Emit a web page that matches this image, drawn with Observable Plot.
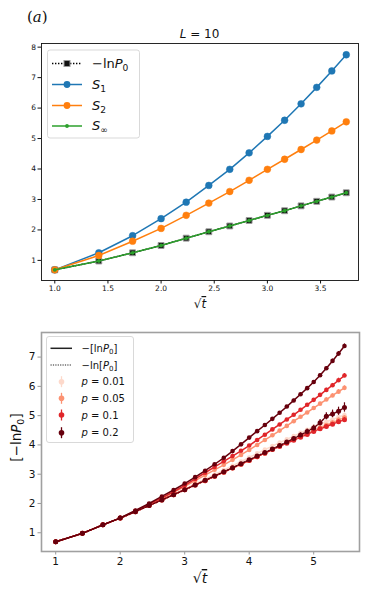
<!DOCTYPE html>
<html><head><meta charset="utf-8">
<script src="https://cdn.jsdelivr.net/npm/d3@7"></script>
<script src="https://cdn.jsdelivr.net/npm/@observablehq/plot@0.6"></script>
<style>body{margin:0;background:#fff;font-family:"DejaVu Sans",sans-serif}#c{width:374px}#c svg{display:block}</style>
</head><body><div id="c"></div><script>
// ---------- Top panel (L = 10) ----------
const sqrtTTop = [1, 1.414, 1.732, 2, 2.236, 2.449, 2.646, 2.828, 3, 3.162, 3.317, 3.464, 3.606, 3.742];
const minusLnP0 = [0.69, 0.98, 1.25, 1.49, 1.73, 1.94, 2.13, 2.31, 2.48, 2.63, 2.79, 2.94, 3.08, 3.22];
const S1 = [0.69, 1.25, 1.81, 2.37, 2.91, 3.46, 3.99, 4.53, 5.07, 5.60, 6.14, 6.68, 7.22, 7.75];
const S2 = [0.69, 1.16, 1.63, 2.05, 2.48, 2.88, 3.26, 3.63, 3.99, 4.32, 4.64, 4.95, 5.25, 5.55];
const Sinf = [0.69, 0.98, 1.25, 1.49, 1.73, 1.94, 2.13, 2.31, 2.48, 2.63, 2.79, 2.94, 3.08, 3.22];
const topXTicks = [1.0, 1.5, 2.0, 2.5, 3.0, 3.5];
const topYTicks = [1, 2, 3, 4, 5, 6, 7, 8];

// ---------- Bottom panel ----------
const sqrtTBot = [1, 1.414, 1.732, 2, 2.236, 2.449, 2.646, 2.828, 3, 3.162, 3.317, 3.464, 3.606, 3.742, 3.873, 4, 4.123, 4.243, 4.359, 4.472, 4.583, 4.690, 4.796, 4.899, 5, 5.099, 5.196, 5.292, 5.385, 5.477];
const pLabels = ["0.01", "0.05", "0.1", "0.2"];
const pColors = ["#fdd9cb", "#fc9272", "#e0262a", "#67000d"];
// -[ln P0]  (solid)
const solid001 = [0.69, 0.98, 1.27, 1.50, 1.73, 1.94, 2.14, 2.32, 2.50, 2.67, 2.83, 2.99, 3.14, 3.29, 3.43, 3.57, 3.71, 3.84, 3.96, 4.08, 4.19, 4.30, 4.41, 4.52, 4.62, 4.71, 4.79, 4.87, 4.95, 5.02];
const solid005 = [0.69, 0.98, 1.27, 1.50, 1.74, 1.96, 2.17, 2.38, 2.58, 2.78, 2.97, 3.15, 3.32, 3.49, 3.66, 3.83, 4.00, 4.17, 4.33, 4.49, 4.65, 4.81, 4.96, 5.11, 5.26, 5.41, 5.55, 5.69, 5.82, 5.95];
const solid01 = [0.69, 0.98, 1.27, 1.50, 1.75, 1.98, 2.19, 2.40, 2.62, 2.84, 3.05, 3.25, 3.44, 3.62, 3.80, 3.98, 4.17, 4.35, 4.53, 4.70, 4.87, 5.03, 5.20, 5.37, 5.54, 5.71, 5.88, 6.04, 6.21, 6.37];
const solid02 = [0.69, 0.98, 1.27, 1.51, 1.76, 2.00, 2.24, 2.46, 2.68, 2.90, 3.12, 3.34, 3.56, 3.79, 4.02, 4.25, 4.47, 4.68, 4.89, 5.10, 5.31, 5.52, 5.73, 5.94, 6.15, 6.38, 6.62, 6.87, 7.12, 7.38];
// -ln[P0]  (dotted)
const dotted001 = [0.69, 0.98, 1.27, 1.50, 1.72, 1.93, 2.12, 2.30, 2.47, 2.63, 2.78, 2.93, 3.07, 3.21, 3.34, 3.47, 3.60, 3.72, 3.85, 3.98, 4.09, 4.20, 4.31, 4.41, 4.51, 4.61, 4.70, 4.79, 4.87, 4.95];
const dotted005 = [0.69, 0.98, 1.27, 1.50, 1.72, 1.93, 2.12, 2.30, 2.47, 2.63, 2.78, 2.93, 3.07, 3.21, 3.34, 3.47, 3.60, 3.72, 3.84, 3.97, 4.08, 4.19, 4.29, 4.39, 4.49, 4.58, 4.67, 4.76, 4.85, 4.93];
const dotted01 = [0.69, 0.98, 1.27, 1.50, 1.72, 1.93, 2.12, 2.30, 2.47, 2.63, 2.78, 2.93, 3.07, 3.21, 3.34, 3.47, 3.60, 3.72, 3.84, 3.95, 4.06, 4.16, 4.26, 4.36, 4.46, 4.55, 4.63, 4.71, 4.79, 4.86];
const dotted02 = [0.69, 0.98, 1.27, 1.50, 1.72, 1.93, 2.12, 2.30, 2.47, 2.63, 2.79, 2.94, 3.08, 3.22, 3.36, 3.49, 3.62, 3.74, 3.86, 3.98, 4.10, 4.22, 4.34, 4.46, 4.58, 4.76, 4.98, 5.06, 5.15, 5.28];
// error bars (half-widths)
const errSmall = [0, 0, 0, 0, 0, 0, 0, 0, 0.01, 0.01, 0.01, 0.01, 0.01, 0.01, 0.02, 0.02, 0.02, 0.02, 0.03, 0.03, 0.03, 0.04, 0.04, 0.04, 0.05, 0.05, 0.06, 0.06, 0.07, 0.07];
const errLarge = [0, 0, 0, 0, 0, 0, 0, 0, 0.01, 0.01, 0.01, 0.02, 0.02, 0.02, 0.02, 0.03, 0.03, 0.04, 0.04, 0.05, 0.05, 0.06, 0.07, 0.08, 0.09, 0.11, 0.12, 0.13, 0.14, 0.16];
const botXTicks = [1, 2, 3, 4, 5];
const botYTicks = [1, 2, 3, 4, 5, 6, 7];

// ---------- tidy tables ----------
const topSeries = [
  {name: "lnP0", values: minusLnP0},
  {name: "S1", values: S1},
  {name: "S2", values: S2},
  {name: "Sinf", values: Sinf}
];
const topData = topSeries.flatMap(s => s.values.map((v, i) => ({series: s.name, x: sqrtTTop[i], y: v})));
const sel = n => topData.filter(d => d.series === n);

const solidSets = [solid001, solid005, solid01, solid02];
const dottedSets = [dotted001, dotted005, dotted01, dotted02];
const dottedErr = [errSmall, errSmall, errSmall, errLarge];
const solidErr = [errSmall, errSmall, errSmall, errSmall];
const botData = [];
pLabels.forEach((p, k) => {
  solidSets[k].forEach((v, i) => botData.push({p, kind: "solid", x: sqrtTBot[i], y: v, e: solidErr[k][i]}));
  dottedSets[k].forEach((v, i) => botData.push({p, kind: "dotted", x: sqrtTBot[i], y: v, e: dottedErr[k][i]}));
});
const bsel = (p, kind) => botData.filter(d => d.p === p && d.kind === kind);

// ---------- text helper (mathtext-like) ----------
function mtext(svg, x, y, parts, o = {}) {
  const size = o.size || 12;
  const t = svg.append("text").attr("x", x).attr("y", y)
    .attr("font-size", size).attr("font-family", o.family || "DejaVu Sans")
    .attr("text-anchor", o.anchor || "start").attr("fill", o.fill || "#111");
  if (o.rotate) t.attr("transform", `rotate(-90 ${x} ${y})`);
  let shift = 0;
  for (const p of parts) {
    const s = t.append("tspan").text(p.t);
    if (p.i) s.attr("font-style", "italic");
    if (p.f) s.attr("font-family", p.f);
    if (p.over) s.style("text-decoration", "overline");
    const target = p.sub ? size * 0.25 : 0;
    if (target !== shift) { s.attr("dy", target - shift); shift = target; }
    if (p.sub) s.attr("font-size", size * 0.7);
  }
  return t;
}

// ---------- top plot ----------
const blue = "#1f77b4", orange = "#ff7f0e", green = "#2ca02c";
const topPlot = Plot.plot({
  width: 374, height: 312,
  marginTop: 43, marginBottom: 32, marginLeft: 41, marginRight: 16,
  x: {domain: [0.875, 3.857]},
  y: {domain: [0.34, 8.12]},
  style: {fontFamily: "DejaVu Sans", fontSize: "7.5px", color: "#111", background: "white"},
  marks: [
    Plot.axisX({ticks: topXTicks, tickFormat: d3.format(".1f"), tickSize: 3.5, tickPadding: 2, label: null, stroke: "#111"}),
    Plot.axisY({ticks: topYTicks, tickFormat: d3.format("d"), tickSize: 3.5, tickPadding: 2, label: null, stroke: "#111"}),
    Plot.line(sel("lnP0"), {x: "x", y: "y", stroke: "black", strokeWidth: 1.4, strokeDasharray: "1.4,1.6"}),
    Plot.dot(sel("lnP0"), {x: "x", y: "y", symbol: "square", r: 3.3, fill: "#111", stroke: "#9a9a9a", strokeWidth: 1}),
    Plot.line(sel("S1"), {x: "x", y: "y", stroke: blue, strokeWidth: 1.5}),
    Plot.dot(sel("S1"), {x: "x", y: "y", r: 3.4, fill: blue, stroke: blue, strokeWidth: 0.5}),
    Plot.line(sel("S2"), {x: "x", y: "y", stroke: orange, strokeWidth: 1.5}),
    Plot.dot(sel("S2"), {x: "x", y: "y", r: 3.4, fill: orange, stroke: orange, strokeWidth: 0.5}),
    Plot.line(sel("Sinf"), {x: "x", y: "y", stroke: green, strokeWidth: 1.5}),
    Plot.dot(sel("Sinf"), {x: "x", y: "y", r: 1.9, fill: green}),
    Plot.frame({stroke: "#111", strokeWidth: 0.9})
  ]
});

// ---------- bottom plot ----------
const botMarks = [
  Plot.axisX({ticks: botXTicks, tickFormat: d3.format("d"), tickSize: 3.5, tickPadding: 2.5, label: null, stroke: "#999", fill: "#111", fontSize: "10.5px"}),
  Plot.axisY({ticks: botYTicks, tickFormat: d3.format("d"), tickSize: 3.5, tickPadding: 2.5, label: null, stroke: "#999", fill: "#111", fontSize: "10.5px"})
];
pLabels.forEach((p, k) => {
  const c = pColors[k];
  const sd = bsel(p, "solid"), dd = bsel(p, "dotted");
  botMarks.push(
    Plot.line(sd, {x: "x", y: "y", stroke: c, strokeWidth: 1.5}),
    Plot.ruleX(sd, {x: "x", y1: d => d.y - d.e, y2: d => d.y + d.e, stroke: c, strokeWidth: 1.2}),
    Plot.dot(sd, {x: "x", y: "y", r: 2.3, fill: c}),
    Plot.line(dd, {x: "x", y: "y", stroke: c, strokeWidth: 1.5, strokeDasharray: "1.5,1.5"}),
    Plot.ruleX(dd, {x: "x", y1: d => d.y - d.e, y2: d => d.y + d.e, stroke: c, strokeWidth: 1.2}),
    Plot.dot(dd, {x: "x", y: "y", r: 2.5, fill: c})
  );
});
botMarks.push(Plot.frame({stroke: "#a0a0a0", strokeWidth: 1.6}));
const botPlot = Plot.plot({
  width: 374, height: 283,
  marginTop: 20, marginBottom: 44, marginLeft: 41, marginRight: 15,
  x: {domain: [0.78, 5.71]},
  y: {domain: [0.36, 7.84]},
  style: {fontFamily: "DejaVu Sans", fontSize: "10.5px", color: "#111", background: "white"},
  marks: botMarks
});

const c = document.getElementById("c");
c.appendChild(topPlot);
c.appendChild(botPlot);

// ---------- top annotations ----------
const ts = d3.select(topPlot);
mtext(ts, 27, 22, [{t: "("}, {t: "a", i: true}, {t: ")"}], {size: 15, family: "DejaVu Serif"});
mtext(ts, 199.5, 37.5, [{t: "L", i: true}, {t: " = 10"}], {size: 12, anchor: "middle"});
mtext(ts, 200, 308, [{t: "√"}, {t: "t", i: true, over: true}], {size: 12, anchor: "middle"});
// legend
ts.append("rect").attr("x", 47.5).attr("y", 50).attr("width", 92).attr("height", 88).attr("rx", 2.5)
  .attr("fill", "white").attr("fill-opacity", 0.85).attr("stroke", "#d5d5d5").attr("stroke-width", 0.9);
const ly = [63.5, 84.5, 105.5, 126];
ts.append("line").attr("x1", 52).attr("x2", 82).attr("y1", ly[0]).attr("y2", ly[0]).attr("stroke", "black").attr("stroke-width", 1.4).attr("stroke-dasharray", "1.4,1.6");
ts.append("rect").attr("x", 64).attr("y", ly[0] - 3).attr("width", 6).attr("height", 6).attr("fill", "#111").attr("stroke", "#9a9a9a");
[[blue, 3.4], [orange, 3.4], [green, 1.9]].forEach(([col, r], i) => {
  ts.append("line").attr("x1", 52).attr("x2", 82).attr("y1", ly[i + 1]).attr("y2", ly[i + 1]).attr("stroke", col).attr("stroke-width", 1.5);
  ts.append("circle").attr("cx", 67).attr("cy", ly[i + 1]).attr("r", r).attr("fill", col);
});
mtext(ts, 92, ly[0] + 4.5, [{t: "−ln"}, {t: "P", i: true}, {t: "0", sub: true}], {size: 13});
mtext(ts, 92, ly[1] + 4, [{t: "S", i: true}, {t: "1", sub: true}], {size: 13});
mtext(ts, 92, ly[2] + 4, [{t: "S", i: true}, {t: "2", sub: true}], {size: 13});
mtext(ts, 92, ly[3] + 4, [{t: "S", i: true}, {t: "∞", sub: true}], {size: 13});

// ---------- bottom annotations ----------
const bs = d3.select(botPlot);
mtext(bs, 200, 271, [{t: "√"}, {t: "t", i: true, over: true}], {size: 14, anchor: "middle"});
mtext(bs, 20.5, 125.5, [{t: "[−ln"}, {t: "P", i: true}, {t: "0", sub: true}, {t: "]"}], {size: 13.5, anchor: "middle", rotate: true});
bs.append("rect").attr("x", 46.5).attr("y", 24.5).attr("width", 87).attr("height", 106).attr("rx", 2.5)
  .attr("fill", "white").attr("fill-opacity", 0.85).attr("stroke", "#d5d5d5").attr("stroke-width", 0.9);
const by = [36.3, 53, 69.7, 86.3, 103, 120.7];
bs.append("line").attr("x1", 50.5).attr("x2", 72).attr("y1", by[0]).attr("y2", by[0]).attr("stroke", "#222").attr("stroke-width", 1.5);
bs.append("line").attr("x1", 50.5).attr("x2", 72).attr("y1", by[1]).attr("y2", by[1]).attr("stroke", "#222").attr("stroke-width", 1.2).attr("stroke-dasharray", "1.2,1.2");
mtext(bs, 81.5, by[0] + 3.5, [{t: "−[ln"}, {t: "P", i: true}, {t: "0", sub: true}, {t: "]"}], {size: 10});
mtext(bs, 81.5, by[1] + 3.5, [{t: "−ln["}, {t: "P", i: true}, {t: "0", sub: true}, {t: "]"}], {size: 10});
pLabels.forEach((p, k) => {
  const yy = by[k + 2];
  bs.append("line").attr("x1", 61.5).attr("x2", 61.5).attr("y1", yy - 5.5).attr("y2", yy + 5.5).attr("stroke", pColors[k]).attr("stroke-width", 1.3);
  bs.append("circle").attr("cx", 61.5).attr("cy", yy).attr("r", 2.8).attr("fill", pColors[k]);
  mtext(bs, 81.5, yy + 3.5, [{t: "p", i: true}, {t: " = " + p}], {size: 10});
});
</script></body></html>
